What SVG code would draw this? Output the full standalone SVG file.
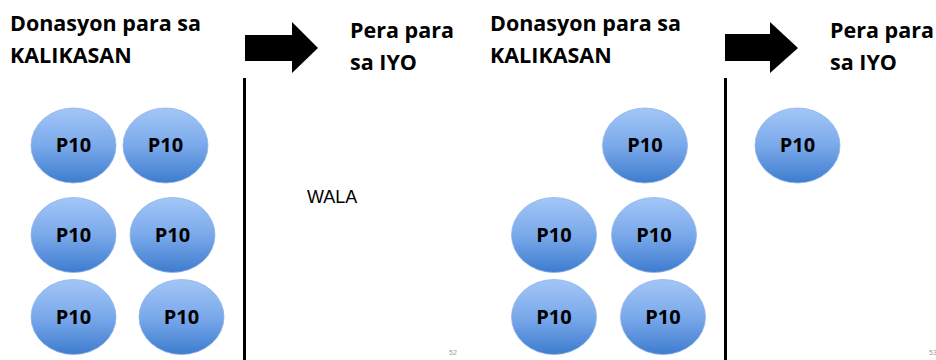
<svg xmlns="http://www.w3.org/2000/svg" width="936" height="360" viewBox="0 0 936 360">
<defs>
<linearGradient id="g" x1="0" y1="0" x2="0" y2="1">
<stop offset="0" stop-color="#a3c6f7"/>
<stop offset="0.5" stop-color="#7aa9ea"/>
<stop offset="1" stop-color="#3e7ccf"/>
</linearGradient>
</defs>
<style>
.h{font-family:"Open Sans","Liberation Sans",sans-serif;font-weight:bold;font-size:21.5px;fill:#000}
.c ellipse{fill:url(#g);stroke:#8fb3e8;stroke-width:0.8}
.c text{font-family:"Open Sans","Liberation Sans",sans-serif;font-weight:bold;font-size:20px;text-anchor:middle;fill:#000}
.pn{font-family:"Liberation Sans",sans-serif;font-size:7px;fill:#999}
</style>
<rect width="936" height="360" fill="#fff"/>
<g id="headings">
<text class="h" x="10" y="31">Donasyon para sa</text>
<text class="h" x="10" y="63">KALIKASAN</text>
<text class="h" x="350" y="38">Pera para</text>
<text class="h" x="350" y="70">sa IYO</text>
<text class="h" x="490" y="31">Donasyon para sa</text>
<text class="h" x="490" y="63">KALIKASAN</text>
<text class="h" x="830" y="38">Pera para</text>
<text class="h" x="830" y="70">sa IYO</text>
</g>
<g id="connectors">
<polygon points="245,35 292,35 292,22 318,48 292,73 292,61 245,61" fill="#000"/>
<polygon points="725,34 770,34 770,22 798,48 770,73 770,61 725,61" fill="#000"/>
<line x1="244.5" y1="78" x2="244.5" y2="360" stroke="#000" stroke-width="3"/>
<line x1="725.5" y1="78" x2="725.5" y2="360" stroke="#000" stroke-width="3"/>
</g>
<g id="c1" class="c"><ellipse cx="73.5" cy="145.5" rx="42.5" ry="37.5"/><text x="73.5" y="152">P10</text></g>
<g id="c2" class="c"><ellipse cx="165.5" cy="145.5" rx="42.5" ry="37.5"/><text x="165.5" y="152">P10</text></g>
<g id="c3" class="c"><ellipse cx="73.5" cy="235" rx="42.5" ry="37.5"/><text x="73.5" y="242">P10</text></g>
<g id="c4" class="c"><ellipse cx="172.5" cy="235" rx="42.5" ry="37.5"/><text x="172.5" y="242">P10</text></g>
<g id="c5" class="c"><ellipse cx="73.5" cy="317" rx="42.5" ry="37.5"/><text x="73.5" y="324">P10</text></g>
<g id="c6" class="c"><ellipse cx="181.5" cy="317" rx="42.5" ry="37.5"/><text x="181.5" y="324">P10</text></g>
<g id="wala"><text x="307" y="203" font-family="Liberation Sans,sans-serif" font-size="18">WALA</text></g>
<g id="c7" class="c"><ellipse cx="645" cy="145.5" rx="42.5" ry="37.5"/><text x="645" y="152">P10</text></g>
<g id="c8" class="c"><ellipse cx="554" cy="235" rx="42.5" ry="37.5"/><text x="554" y="242">P10</text></g>
<g id="c9" class="c"><ellipse cx="654" cy="235" rx="42.5" ry="37.5"/><text x="654" y="242">P10</text></g>
<g id="c10" class="c"><ellipse cx="554" cy="317" rx="42.5" ry="37.5"/><text x="554" y="324">P10</text></g>
<g id="c11" class="c"><ellipse cx="663" cy="317" rx="42.5" ry="37.5"/><text x="663" y="324">P10</text></g>
<g id="c12" class="c"><ellipse cx="797.5" cy="145.5" rx="42.5" ry="37.5"/><text x="797.5" y="152">P10</text></g>
<g id="pagenums">
<text class="pn" x="449" y="355">52</text>
<text class="pn" x="929" y="355">53</text>
</g>
</svg>
